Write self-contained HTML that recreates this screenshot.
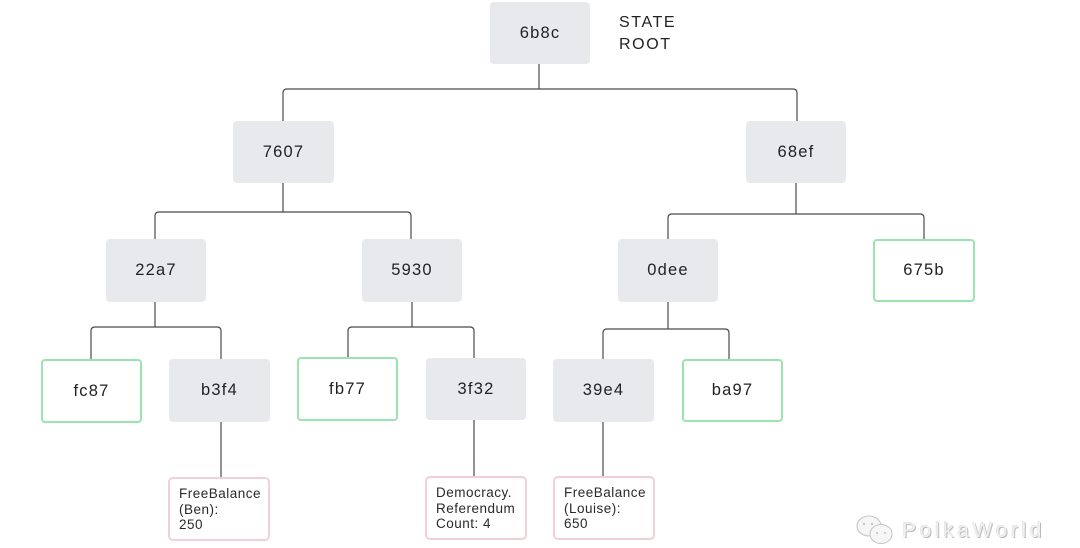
<!DOCTYPE html>
<html>
<head>
<meta charset="utf-8">
<style>
  html,body{margin:0;padding:0;background:#fff;}
  body{width:1080px;height:548px;position:relative;overflow:hidden;font-family:"Liberation Sans","DejaVu Sans",sans-serif;}
  .n{position:absolute;box-sizing:border-box;border-radius:4px;display:flex;align-items:center;justify-content:center;font-size:16.5px;letter-spacing:1.2px;color:#222;}
  .g{background:#e7e9ec;}
  .l{background:#fff;border:2px solid #9ae4b0;}
  .p{position:absolute;box-sizing:border-box;border-radius:5px;border:2px solid #f2d0d7;background:#fff;font-size:13.5px;line-height:15.5px;letter-spacing:0.5px;color:#2a2a2a;padding:7px 0 0 9px;}
  svg{position:absolute;left:0;top:0;}
  .lab{position:absolute;left:619px;top:12px;font-size:16px;line-height:22px;letter-spacing:1.6px;color:#222;}
  .wm{position:absolute;left:902px;top:519px;font-size:21px;line-height:24px;color:#f0f0f0;letter-spacing:3.6px;text-shadow:1px 1px 0 #bbb,-0.5px -0.5px 0 #ddd;}
</style>
</head>
<body>
<svg width="1080" height="548" viewBox="0 0 1080 548">
  <g fill="none" stroke="#4a4a4a" stroke-width="1.2">
    <path d="M539 64 V89"/>
    <path d="M283 121 V93 Q283 89 287 89 H793 Q797 89 797 93 V121"/>
    <path d="M283 183 V212"/>
    <path d="M155 239 V216 Q155 212 159 212 H407 Q411 212 411 216 V239"/>
    <path d="M796 183 V214"/>
    <path d="M668 239 V218 Q668 214 672 214 H920 Q924 214 924 218 V239"/>
    <path d="M155 302 V327"/>
    <path d="M91 359 V331 Q91 327 95 327 H217 Q221 327 221 331 V359"/>
    <path d="M412 302 V327"/>
    <path d="M348 357 V331 Q348 327 352 327 H470 Q474 327 474 331 V358"/>
    <path d="M668 302 V329"/>
    <path d="M603 359 V333 Q603 329 607 329 H725 Q729 329 729 333 V359"/>
    <path d="M221 422 V477"/>
    <path d="M474 420 V476"/>
    <path d="M603 422 V476"/>
  </g>
  <g fill="#f6f6f6" stroke="#c4c4c4" stroke-width="1">
    <ellipse cx="869" cy="526" rx="12" ry="10"/>
    <ellipse cx="881" cy="534" rx="11" ry="9.5"/>
  </g>
  <g fill="#c4c4c4">
    <circle cx="864" cy="524" r="1.2"/><circle cx="872" cy="524" r="1.2"/>
    <circle cx="877" cy="533" r="1"/><circle cx="885" cy="533" r="1"/>
  </g>
</svg>

<div class="n g" style="left:490px;top:2px;width:100px;height:62px;">6b8c</div>
<div class="lab">STATE<br>ROOT</div>

<div class="n g" style="left:233px;top:121px;width:101px;height:62px;">7607</div>
<div class="n g" style="left:746px;top:121px;width:100px;height:62px;">68ef</div>

<div class="n g" style="left:106px;top:239px;width:100px;height:63px;">22a7</div>
<div class="n g" style="left:362px;top:239px;width:100px;height:63px;">5930</div>
<div class="n g" style="left:618px;top:239px;width:100px;height:63px;">0dee</div>
<div class="n l" style="left:873px;top:239px;width:102px;height:63px;">675b</div>

<div class="n l" style="left:41px;top:359px;width:101px;height:64px;">fc87</div>
<div class="n g" style="left:169px;top:359px;width:101px;height:63px;">b3f4</div>
<div class="n l" style="left:297px;top:357px;width:101px;height:64px;">fb77</div>
<div class="n g" style="left:426px;top:358px;width:100px;height:62px;">3f32</div>
<div class="n g" style="left:553px;top:359px;width:101px;height:63px;">39e4</div>
<div class="n l" style="left:682px;top:359px;width:101px;height:63px;">ba97</div>

<div class="p" style="left:168px;top:477px;width:102px;height:64px;">FreeBalance<br>(Ben):<br>250</div>
<div class="p" style="left:425px;top:476px;width:102px;height:64px;">Democracy.<br>Referendum<br>Count: 4</div>
<div class="p" style="left:553px;top:476px;width:102px;height:64px;">FreeBalance<br>(Louise):<br>650</div>

<div class="wm">PolkaWorld</div>
</body>
</html>
